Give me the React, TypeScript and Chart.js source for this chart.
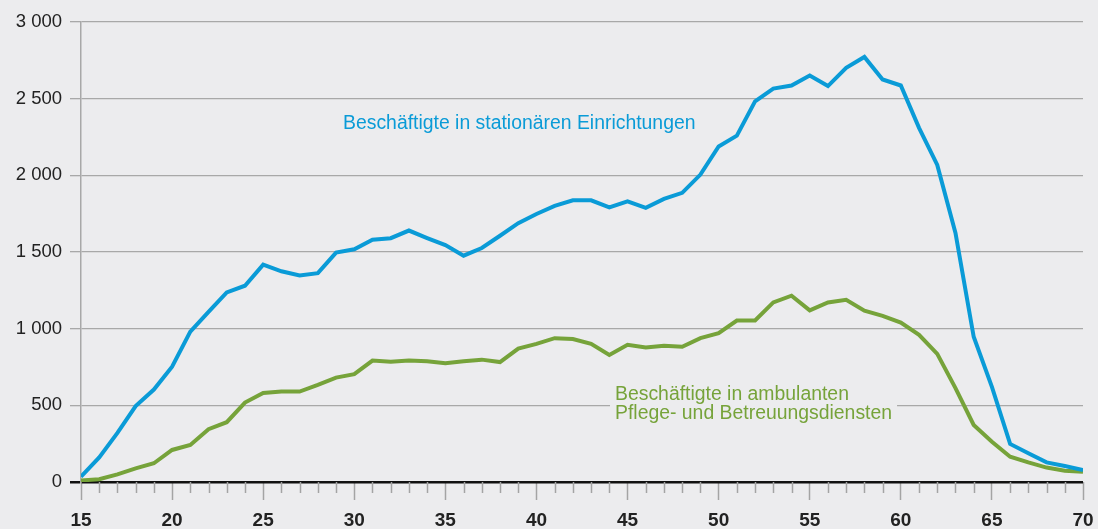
import React, { useEffect, useRef } from "react";
import { Chart, registerables } from "chart.js";

Chart.register(...registerables);

const ages: number[] = [
  15, 16, 17, 18, 19, 20, 21, 22, 23, 24, 25, 26, 27, 28, 29, 30, 31, 32, 33, 34,
  35, 36, 37, 38, 39, 40, 41, 42, 43, 44, 45, 46, 47, 48, 49, 50, 51, 52, 53, 54,
  55, 56, 57, 58, 59, 60, 61, 62, 63, 64, 65, 66, 67, 68, 69, 70,
];

const stationaer: number[] = [
  35, 160, 320, 495, 603, 752, 981, 1110, 1236, 1280, 1418, 1374, 1347, 1362, 1496, 1518,
  1580, 1590, 1640, 1591, 1545, 1476, 1526, 1606, 1688, 1748, 1801, 1837, 1837, 1791, 1831,
  1788, 1846, 1886, 2005, 2188, 2259, 2483, 2566, 2586, 2651, 2582, 2701, 2772, 2625, 2586,
  2310, 2068, 1624, 947, 620, 248, 187, 128, 104, 78,
];

const ambulant: number[] = [
  10, 18, 50, 89, 122, 209, 242, 344, 390, 518, 580, 590, 590, 633, 681, 703, 792, 784, 792,
  788, 775, 788, 798, 782, 870, 901, 938, 932, 901, 829, 895, 877, 888, 882, 938, 971, 1053,
  1053, 1171, 1215, 1119, 1171, 1188, 1117, 1084, 1040, 960, 836, 612, 372, 263, 165, 128,
  94, 74, 67,
];

const labelStationaer = "Beschäftigte in stationären Einrichtungen";
const labelAmbulant: string[] = ["Beschäftigte in ambulanten", "Pflege- und Betreuungsdiensten"];

const BG = "#ececee";
const BLUE = "#0a9bd7";
const GREEN = "#76a33a";
const FONT = "'Liberation Sans', Arial, Helvetica, sans-serif";

const fmt = (v: number) => String(v).replace(/\B(?=(\d{3})+(?!\d))/g, " ");

const decorPlugin = {
  id: "decor",
  beforeDraw(chart: any) {
    const ctx = chart.ctx;
    ctx.save();
    ctx.fillStyle = BG;
    ctx.fillRect(0, 0, chart.width, chart.height);
    ctx.restore();
  },
  beforeDatasetsDraw(chart: any) {
    const ctx = chart.ctx;
    const xs = chart.scales.x;
    const ys = chart.scales.y;
    ctx.save();
    ctx.font = `19.4px ${FONT}`;
    const gx = 615;
    const w = Math.max(...labelAmbulant.map((t) => ctx.measureText(t).width));
    ctx.fillStyle = BG;
    ctx.fillRect(gx - 5, ys.getPixelForValue(500) - 3, w + 10, 8);
    ctx.fillStyle = GREEN;
    ctx.textBaseline = "alphabetic";
    ctx.textAlign = "left";
    ctx.fillText(labelAmbulant[0], gx, 400);
    ctx.fillText(labelAmbulant[1], gx, 418.5);
    ctx.fillStyle = BLUE;
    ctx.fillText(labelStationaer, 343, 128.5);
    const yb = ys.getPixelForValue(0);
    ctx.strokeStyle = "#a4a4a4";
    ctx.lineWidth = 1.5;
    for (const a of ages) {
      if (a % 5 === 0) continue;
      const px = Math.round(xs.getPixelForValue(a)) + 0.5;
      ctx.beginPath();
      ctx.moveTo(px, yb);
      ctx.lineTo(px, yb + 11);
      ctx.stroke();
    }
    ctx.restore();
  },
};

export default function App() {
  const ref = useRef<HTMLCanvasElement | null>(null);
  useEffect(() => {
    document.body.style.margin = "0";
    document.body.style.background = BG;
    const canvas = ref.current;
    if (!canvas) return;
    const chart = new Chart(canvas, {
      type: "line",
      data: {
        datasets: [
          {
            label: labelStationaer,
            data: ages.map((a, i) => ({ x: a, y: stationaer[i] })),
            borderColor: BLUE,
            borderWidth: 4,
            pointRadius: 0,
            tension: 0,
            fill: false,
          },
          {
            label: labelAmbulant.join(" "),
            data: ages.map((a, i) => ({ x: a, y: ambulant[i] })),
            borderColor: GREEN,
            borderWidth: 4,
            pointRadius: 0,
            tension: 0,
            fill: false,
          },
        ],
      },
      options: {
        responsive: false,
        animation: false,
        layout: { padding: { top: 22, right: 15, left: 0, bottom: 0 } },
        plugins: { legend: { display: false }, tooltip: { enabled: false } },
        scales: {
          x: {
            type: "linear",
            min: 15,
            max: 70,
            afterFit: (s: any) => {
              s.height = 47;
              s.paddingLeft = 0;
              s.paddingRight = 0;
            },
            ticks: {
              stepSize: 5,
              color: "#222",
              font: { family: FONT, size: 19, weight: "bold" },
              padding: 9,
              maxRotation: 0,
              autoSkip: false,
            },
            grid: {
              drawOnChartArea: false,
              drawTicks: true,
              tickLength: 18,
              tickColor: "#a4a4a4",
              tickWidth: 1.5,
            },
            border: { display: false },
          },
          y: {
            min: 0,
            max: 3000,
            afterFit: (s: any) => {
              s.width = 81;
            },
            ticks: {
              stepSize: 500,
              color: "#222",
              font: { family: FONT, size: 18.5 },
              padding: 8,
              callback: (v: any) => fmt(Number(v)),
            },
            grid: {
              color: (c: any) => (c.tick && c.tick.value === 0 ? "#111" : "#a8a8a8"),
              lineWidth: (c: any) => (c.tick && c.tick.value === 0 ? 2.5 : 1.3),
              tickLength: 11,
            },
            border: { display: true, color: "#a8a8a8", width: 1.5 },
          },
        },
      },
      plugins: [decorPlugin],
    } as any);
    return () => chart.destroy();
  }, []);
  return (
    <div style={{ width: 1098, height: 529, background: BG }}>
      <canvas ref={ref} width={1098} height={529} style={{ display: "block" }} />
    </div>
  );
}
